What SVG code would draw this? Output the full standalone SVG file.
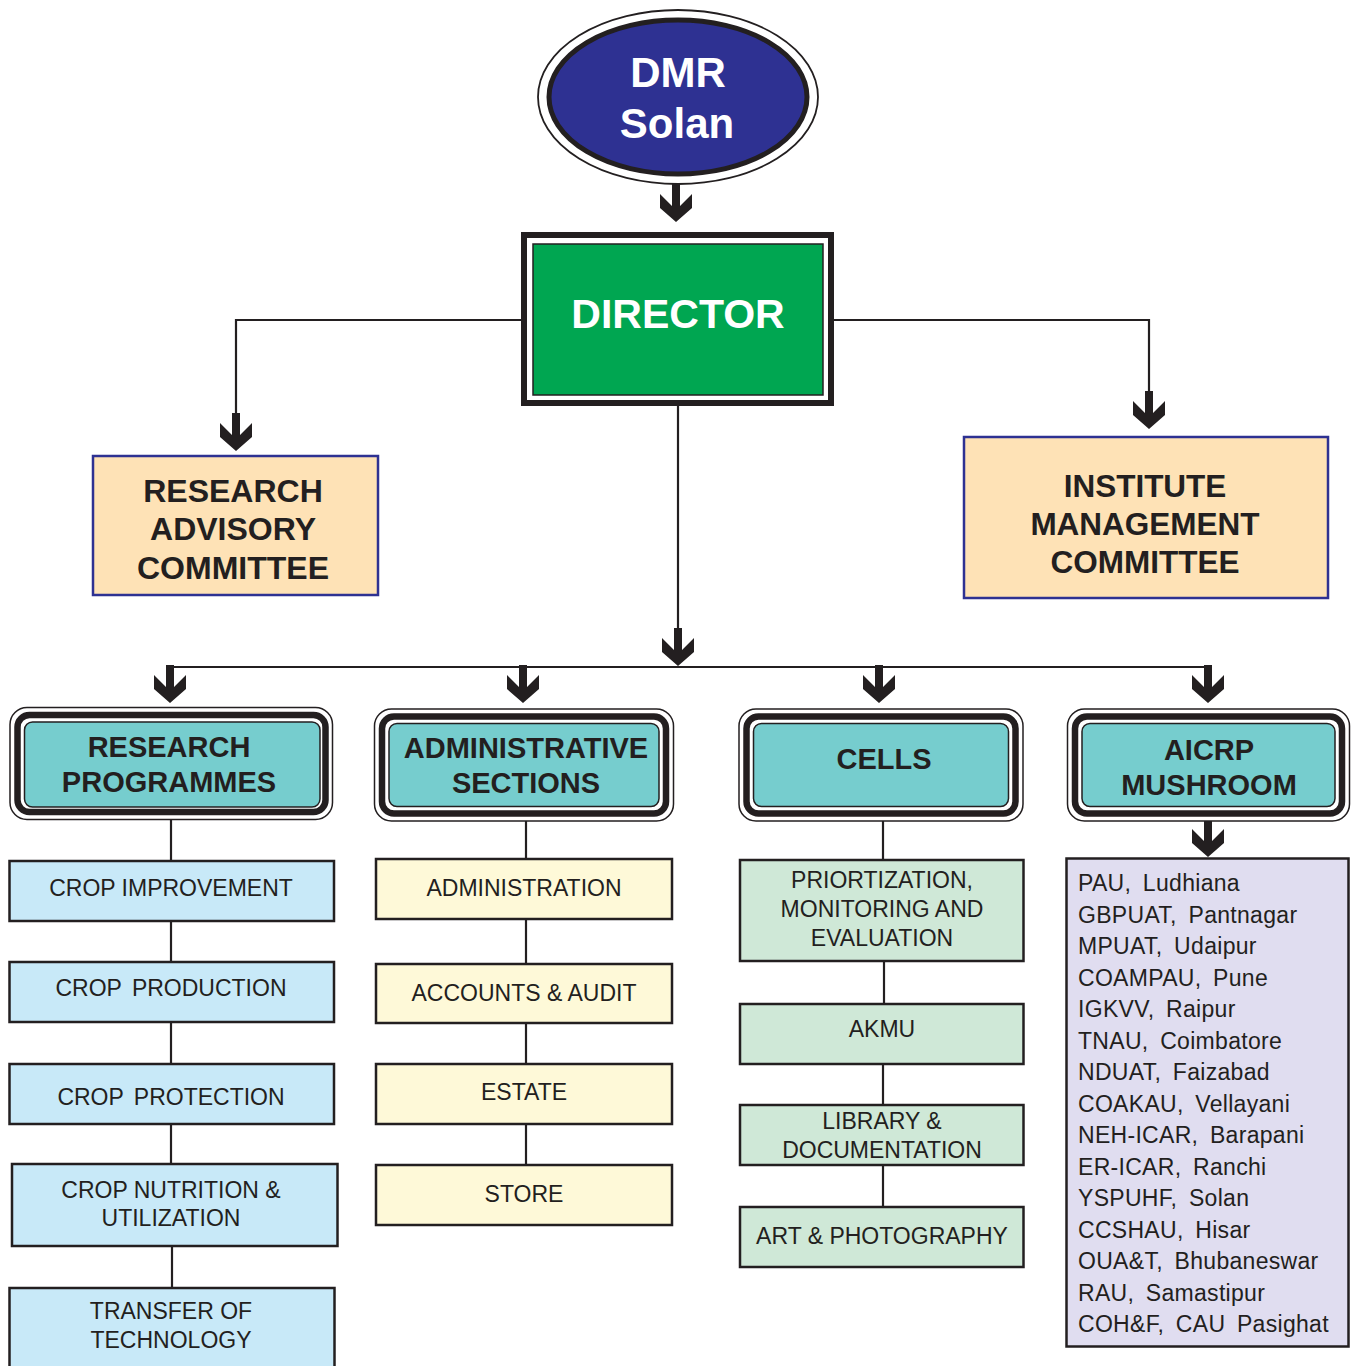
<svg xmlns="http://www.w3.org/2000/svg" width="1351" height="1366" viewBox="0 0 1351 1366">
<style>
.ln{stroke:#231f20;stroke-width:2.2;fill:none}
.ar{fill:#231f20}
.hb{font-family:"Liberation Sans",Arial,sans-serif;font-weight:bold;fill:#231f20;text-anchor:middle}
.tx{font-family:"Liberation Sans",Arial,sans-serif;fill:#231f20;text-anchor:middle;font-size:23px}
.o1{fill:#fff;stroke:#231f20;stroke-width:1.5}
.o2{fill:#fff;stroke:#231f20;stroke-width:6.5}
.o3{fill:#76cdce;stroke:#231f20;stroke-width:1.5}
.blue{fill:#c8e9f8;stroke:#231f20;stroke-width:2.5}
.yel{fill:#fef9d8;stroke:#231f20;stroke-width:2.5}
.grn{fill:#cfe8d7;stroke:#231f20;stroke-width:2.5}
.cmt{fill:#fee2b6;stroke:#2e3192;stroke-width:2.5}
</style>
<defs>
<path id="arr" d="M-4,-38 L4,-38 L4,-16 L16,-28 L16,-14 L0,0 L-16,-14 L-16,-28 L-4,-16 Z"/>
</defs>

<g id="connectors">
<line class="ln" x1="676" y1="185" x2="676" y2="200"/>
<use href="#arr" class="ar" transform="translate(676,222)"/>
<polyline class="ln" points="522,320 236,320 236,420"/>
<use href="#arr" class="ar" transform="translate(236,451)"/>
<polyline class="ln" points="834,320 1149,320 1149,400"/>
<use href="#arr" class="ar" transform="translate(1149,429)"/>
<line class="ln" x1="678" y1="406" x2="678" y2="640"/>
<use href="#arr" class="ar" transform="translate(678,666)"/>
<line class="ln" x1="170" y1="667" x2="1209" y2="667"/>
<use href="#arr" class="ar" transform="translate(170,703)"/>
<use href="#arr" class="ar" transform="translate(523,703)"/>
<use href="#arr" class="ar" transform="translate(879,703)"/>
<use href="#arr" class="ar" transform="translate(1208,703)"/>
<line class="ln" x1="1208" y1="821" x2="1208" y2="830"/>
<use href="#arr" class="ar" transform="translate(1208,857)"/>
<line class="ln" x1="171" y1="820" x2="171" y2="861"/>
<line class="ln" x1="171" y1="921" x2="171" y2="962"/>
<line class="ln" x1="171" y1="1022" x2="171" y2="1064"/>
<line class="ln" x1="171" y1="1124" x2="171" y2="1164"/>
<line class="ln" x1="172" y1="1246" x2="172" y2="1288"/>
<line class="ln" x1="526" y1="821" x2="526" y2="859"/>
<line class="ln" x1="526" y1="919" x2="526" y2="964"/>
<line class="ln" x1="526" y1="1023" x2="526" y2="1064"/>
<line class="ln" x1="526" y1="1124" x2="526" y2="1165"/>
<line class="ln" x1="883" y1="821" x2="883" y2="860"/>
<line class="ln" x1="884" y1="961" x2="884" y2="1004"/>
<line class="ln" x1="883" y1="1064" x2="883" y2="1105"/>
<line class="ln" x1="883" y1="1165" x2="883" y2="1207"/>
</g>

<g id="dmr">
<ellipse cx="678" cy="97" rx="140" ry="87" fill="#fff" stroke="#231f20" stroke-width="1.8"/>
<ellipse cx="678" cy="97" rx="129" ry="77" fill="#2e3192" stroke="#231f20" stroke-width="5"/>
<text class="hb" x="678" y="87" font-size="42" fill="#fff" style="fill:#fff">DMR</text>
<text class="hb" x="677" y="138" font-size="42" style="fill:#fff">Solan</text>
</g>

<g id="director">
<rect x="524" y="235" width="307" height="168" fill="#fff" stroke="#231f20" stroke-width="6"/>
<rect x="533" y="244" width="290" height="151" fill="#00a651" stroke="#231f20" stroke-width="1.5"/>
<text class="hb" x="678" y="328" font-size="41" style="fill:#fff">DIRECTOR</text>
</g>

<g id="rac">
<rect class="cmt" x="93" y="456" width="285" height="139"/>
<text class="hb" x="233" y="502" font-size="32">RESEARCH</text>
<text class="hb" x="233" y="540" font-size="32">ADVISORY</text>
<text class="hb" x="233" y="579" font-size="32">COMMITTEE</text>
</g>

<g id="imc">
<rect class="cmt" x="964" y="437" width="364" height="161"/>
<text class="hb" x="1145" y="497" font-size="31.5">INSTITUTE</text>
<text class="hb" x="1145" y="535" font-size="31.5">MANAGEMENT</text>
<text class="hb" x="1145" y="573" font-size="31.5">COMMITTEE</text>
</g>

<g id="research-programmes">
<rect class="o1" x="10" y="707.5" width="322.5" height="112" rx="17"/>
<rect class="o2" x="17.5" y="715" width="308" height="97" rx="12"/>
<rect class="o3" x="24.5" y="722" width="295.5" height="85" rx="8"/>
<text class="hb" x="169" y="757" font-size="29">RESEARCH</text>
<text class="hb" x="169" y="792" font-size="29">PROGRAMMES</text>
</g>

<g id="administrative-sections">
<rect class="o1" x="374.5" y="709" width="299" height="112" rx="17"/>
<rect class="o2" x="382" y="716.5" width="284" height="97" rx="12"/>
<rect class="o3" x="389" y="723.5" width="270" height="83" rx="8"/>
<text class="hb" x="526" y="758" font-size="29">ADMINISTRATIVE</text>
<text class="hb" x="526" y="793" font-size="29">SECTIONS</text>
</g>

<g id="cells">
<rect class="o1" x="739" y="709" width="284" height="112" rx="17"/>
<rect class="o2" x="746.5" y="716.5" width="269" height="97" rx="12"/>
<rect class="o3" x="753.5" y="723.5" width="255" height="83" rx="8"/>
<text class="hb" x="884" y="769" font-size="29">CELLS</text>
</g>

<g id="aicrp">
<rect class="o1" x="1067.5" y="709" width="282" height="112" rx="17"/>
<rect class="o2" x="1075" y="716.5" width="267" height="97" rx="12"/>
<rect class="o3" x="1082" y="723.5" width="253" height="83" rx="8"/>
<text class="hb" x="1209" y="760" font-size="29">AICRP</text>
<text class="hb" x="1209" y="795" font-size="29">MUSHROOM</text>
</g>

<g id="crop-improvement">
<rect class="blue" x="9.5" y="861" width="324.5" height="60"/>
<text class="tx" x="171" y="896">CROP IMPROVEMENT</text>
</g>
<g id="crop-production">
<rect class="blue" x="9.5" y="962" width="324.5" height="60"/>
<text class="tx" x="171" y="996" style="word-spacing:4px">CROP PRODUCTION</text>
</g>
<g id="crop-protection">
<rect class="blue" x="9.5" y="1064" width="324.5" height="60"/>
<text class="tx" x="171" y="1105" style="word-spacing:4px">CROP PROTECTION</text>
</g>
<g id="crop-nutrition">
<rect class="blue" x="12" y="1164" width="325.5" height="82"/>
<text class="tx" x="171" y="1198">CROP NUTRITION &amp;</text>
<text class="tx" x="171" y="1226">UTILIZATION</text>
</g>
<g id="transfer-of-technology">
<rect class="blue" x="9.5" y="1288" width="325" height="90"/>
<text class="tx" x="171" y="1319">TRANSFER OF</text>
<text class="tx" x="171" y="1348">TECHNOLOGY</text>
</g>

<g id="administration">
<rect class="yel" x="376" y="859" width="296" height="60"/>
<text class="tx" x="524" y="896">ADMINISTRATION</text>
</g>
<g id="accounts-audit">
<rect class="yel" x="376" y="964" width="296" height="59"/>
<text class="tx" x="524" y="1001">ACCOUNTS &amp; AUDIT</text>
</g>
<g id="estate">
<rect class="yel" x="376" y="1064" width="296" height="60"/>
<text class="tx" x="524" y="1100">ESTATE</text>
</g>
<g id="store">
<rect class="yel" x="376" y="1165" width="296" height="60"/>
<text class="tx" x="524" y="1202">STORE</text>
</g>

<g id="priortization">
<rect class="grn" x="740" y="860" width="283.5" height="101"/>
<text class="tx" x="882" y="888">PRIORTIZATION,</text>
<text class="tx" x="882" y="917">MONITORING AND</text>
<text class="tx" x="882" y="946">EVALUATION</text>
</g>
<g id="akmu">
<rect class="grn" x="740" y="1004" width="283.5" height="60"/>
<text class="tx" x="882" y="1037">AKMU</text>
</g>
<g id="library">
<rect class="grn" x="740" y="1105" width="283.5" height="60"/>
<text class="tx" x="882" y="1129">LIBRARY &amp;</text>
<text class="tx" x="882" y="1158">DOCUMENTATION</text>
</g>
<g id="art-photography">
<rect class="grn" x="740" y="1207" width="283.5" height="60"/>
<text class="tx" x="882" y="1244">ART &amp; PHOTOGRAPHY</text>
</g>

<g id="aicrp-centres">
<rect x="1066.5" y="858.5" width="282" height="488" fill="#e0ddf0" stroke="#231f20" stroke-width="2.5"/>
<g font-family="Liberation Sans, Arial, sans-serif" font-size="23" fill="#231f20" style="word-spacing:5px;letter-spacing:0.3px">
<text x="1078" y="891">PAU, Ludhiana</text>
<text x="1078" y="922.5">GBPUAT, Pantnagar</text>
<text x="1078" y="954">MPUAT, Udaipur</text>
<text x="1078" y="985.5">COAMPAU, Pune</text>
<text x="1078" y="1017">IGKVV, Raipur</text>
<text x="1078" y="1048.5">TNAU, Coimbatore</text>
<text x="1078" y="1080">NDUAT, Faizabad</text>
<text x="1078" y="1111.5">COAKAU, Vellayani</text>
<text x="1078" y="1143">NEH-ICAR, Barapani</text>
<text x="1078" y="1174.5">ER-ICAR, Ranchi</text>
<text x="1078" y="1206">YSPUHF, Solan</text>
<text x="1078" y="1237.5">CCSHAU, Hisar</text>
<text x="1078" y="1269">OUA&amp;T, Bhubaneswar</text>
<text x="1078" y="1300.5">RAU, Samastipur</text>
<text x="1078" y="1332">COH&amp;F, CAU Pasighat</text>
</g>
</g>
</svg>
